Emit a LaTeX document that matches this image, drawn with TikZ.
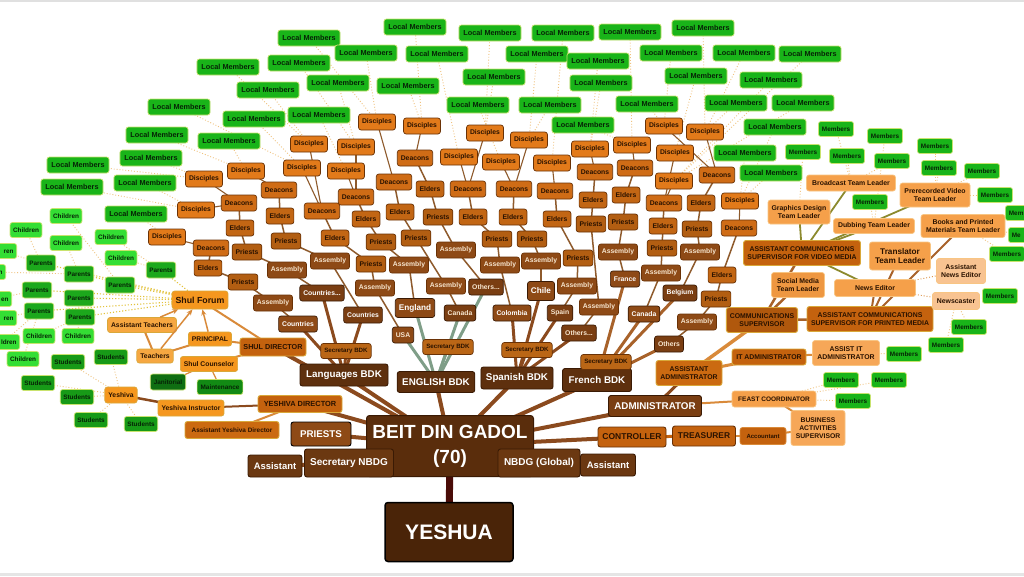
\documentclass[tikz,border=0pt]{standalone}
\usepackage{fontspec}
\setmainfont{Liberation Sans}
\usetikzlibrary{backgrounds,arrows.meta}
\definecolor{cLM}{HTML}{19B419}
\definecolor{cLMb}{HTML}{C9E36E}
\definecolor{cCh}{HTML}{34DE34}
\definecolor{cPa}{HTML}{1CA81C}
\definecolor{cSt}{HTML}{179A17}
\definecolor{cJa}{HTML}{0F6E12}
\definecolor{cMa}{HTML}{128A14}
\definecolor{cTG}{HTML}{062406}
\definecolor{cDi}{HTML}{E27A1A}
\definecolor{cDe}{HTML}{CF6C16}
\definecolor{cEl}{HTML}{C26614}
\definecolor{cPr}{HTML}{B25E12}
\definecolor{cAs}{HTML}{8E4A16}
\definecolor{cCo}{HTML}{7A3E12}
\definecolor{cSe}{HTML}{BA6616}
\definecolor{cBDK}{HTML}{5E300E}
\definecolor{cBDG}{HTML}{5A2D0C}
\definecolor{cYe}{HTML}{4A2408}
\definecolor{cNB}{HTML}{6B3811}
\definecolor{cBr}{HTML}{6A3206}
\definecolor{cDk}{HTML}{3A1A04}
\definecolor{cTD}{HTML}{2A1200}
\definecolor{cCream}{HTML}{F7E6CF}
\definecolor{cOr}{HTML}{F5971F}
\definecolor{cOrL}{HTML}{F5A04A}
\definecolor{cOrLb}{HTML}{F8C583}
\definecolor{cOrP}{HTML}{F8C391}
\definecolor{cOrD}{HTML}{C4620E}
\definecolor{cGold}{HTML}{D9A83A}
\definecolor{cLine}{HTML}{8B4A1E}
\definecolor{cLineE}{HTML}{7F9E88}
\definecolor{cLineM}{HTML}{8E5A2C}
\definecolor{cLineF}{HTML}{A8622A}
\definecolor{cLeaf}{HTML}{F0C27E}
\definecolor{cYel}{HTML}{E3C23A}
\definecolor{cOlive}{HTML}{8C8A2E}
\definecolor{cOrE}{HTML}{D98A3A}
\definecolor{cRed}{HTML}{4A0C08}
\newcommand\fS{\fontsize{6.8}{7.8}\selectfont\bfseries}
\newcommand\fM{\fontsize{6.4}{7.2}\selectfont\bfseries}
\newcommand\fL{\fontsize{7.3}{8}\selectfont\bfseries}
\newcommand\fT{\fontsize{6.9}{8.3}\selectfont\bfseries}
\tikzset{
 nb/.style={rounded corners=2.5pt, line width=0.7pt, inner xsep=3.5pt, inner ysep=0pt, minimum height=15pt, align=center, font=\fS},
 nLM/.style={nb, fill=cLM, draw=cLMb, text=cTG, minimum height=16pt, inner xsep=4.5pt, font=\fL},
 nMem/.style={nb, fill=cLM, draw=cLMb, text=cTG, font=\fM},
 nChi/.style={nb, fill=cCh, draw=cLMb, text=cTG, font=\fM, inner xsep=3pt},
 nPar/.style={nb, fill=cPa, draw=cLMb, text=cTG, font=\fM, minimum height=16pt, inner xsep=3pt},
 nStu/.style={nb, fill=cSt, draw=cLMb, text=cTG, font=\fM, inner xsep=3pt},
 nDis/.style={nb, fill=cDi, draw=cBr, text=cTD, minimum height=16pt},
 nDea/.style={nDis, fill=cDe},
 nEld/.style={nDis, fill=cEl},
 nPri/.style={nDis, fill=cPr},
 nAsm/.style={nDis, fill=cAs, text=cCream},
 nCtry/.style={nDis, fill=cCo, text=white, draw=cDk},
 nSec/.style={nDis, fill=cSe, font=\fontsize{6.2}{7}\selectfont\bfseries, minimum height=15pt},
 nBDK/.style={nb, fill=cBDK, draw=cDk, text=white, font=\fontsize{9.8}{11}\selectfont\bfseries, minimum height=22pt, inner xsep=5pt, line width=0.9pt},
 nTop/.style={nb, fill=cBDG, draw=cDk, text=white, line width=1pt, rounded corners=3pt},
 nBig/.style={nb, fill=cNB, draw=cDk, text=white, line width=0.9pt, font=\fontsize{9.8}{11}\selectfont\bfseries},
 nOr/.style={nb, fill=cOr, draw=cGold, text=cTD},
 nOrD/.style={nb, fill=cOrD, draw=cGold, text=cTD, line width=0.9pt},
 nOrL/.style={nb, fill=cOrL, draw=cOrLb, text=cTD, font=\fT},
 nOrP/.style={nb, fill=cOrP, draw=cOrLb, text=cTD, font=\fT},
 eBig/.style={draw=cLine, line width=4pt},
 eBDK/.style={draw=cLine, line width=3pt},
 eEng/.style={draw=cLineE, line width=3pt},
 eFr/.style={draw=cLineF, line width=3pt},
 eMid/.style={draw=cLineM, line width=1.5pt},
 eThin/.style={draw=cLineM, line width=1.1pt},
 eLeaf/.style={draw=cLeaf, line width=0.9pt, dotted},
 eYel/.style={draw=cYel, line width=1.1pt, dotted},
 eOr/.style={draw=cOrE, line width=2pt},
 eOl/.style={draw=cOlive, line width=1.8pt},
}
\begin{document}
\begin{tikzpicture}[x=1pt,y=-1pt]
\useasboundingbox (0,0) rectangle (1024,576);
% ---------- core ----------
\node[nTop, minimum width=167pt, minimum height=61pt, font=\fontsize{19}{25}\selectfont\bfseries] (bdg) at (450,446) {BEIT DIN GADOL\\(70)};
\node[nTop, fill=cYe, draw=black, minimum width=128pt, minimum height=59pt, font=\fontsize{21}{24}\selectfont\bfseries, line width=1.5pt] (yeshua) at (449,532) {YESHUA};
\node[nBig, fill=cAs, draw=black, minimum width=60pt, minimum height=24pt] (pr2) at (321,434) {PRIESTS};
\node[nBig, minimum width=89pt, minimum height=28pt, font=\fontsize{10}{11}\selectfont\bfseries] (secnbdg) at (349,463) {Secretary NBDG};
\node[nBig, minimum width=54pt, minimum height=22pt, font=\fontsize{9.4}{11}\selectfont\bfseries] (asst1) at (275,466) {Assistant};
\node[nBig, minimum width=82pt, minimum height=28pt, font=\fontsize{10}{11}\selectfont\bfseries] (nbdgg) at (539,463) {NBDG (Global)};
\node[nBig, minimum width=55pt, minimum height=22pt, font=\fontsize{9.4}{11}\selectfont\bfseries] (asst2) at (608,465) {Assistant};
\node[nBig, fill=cCo, minimum width=93pt, minimum height=21pt] (admin) at (655,406) {ADMINISTRATOR};
\node[nb, fill=cOrD, draw=cBr, text=cTD, minimum width=68pt, minimum height=20pt, font=\fontsize{8.5}{10}\selectfont\bfseries, line width=0.9pt] (ctrl) at (632,437) {CONTROLLER};
\node[nb, fill=cOrD, draw=cBr, text=cTD, minimum width=63pt, minimum height=20pt, font=\fontsize{8.4}{10}\selectfont\bfseries, line width=0.9pt] (treas) at (704,436) {TREASURER};
\node[nb, fill=cOrD, draw=cOrE, text=cTD, minimum width=46pt, minimum height=17pt, font=\fontsize{6}{7}\selectfont\bfseries] (acct) at (763,436) {Accountant};
\node[nOrL, minimum width=84pt, minimum height=16pt, font=\fontsize{6.5}{7}\selectfont\bfseries] (feast) at (774,399) {FEAST COORDINATOR};
\node[nOrL, fill=cOrL!80!cOrP, minimum width=54pt, minimum height=35pt, font=\fontsize{6.8}{8}\selectfont\bfseries] (bas) at (818,428) {BUSINESS\\ACTIVITIES\\SUPERVISOR};
% ---------- BDKs ----------
\node[nBDK, minimum width=88pt] (langbdk) at (344,375) {Languages BDK};
\node[nBDK, minimum width=76pt, minimum height=21pt] (engbdk) at (436,382) {ENGLISH BDK};
\node[nBDK, minimum width=72pt] (spabdk) at (517,378) {Spanish BDK};
\node[nBDK, minimum width=69pt, minimum height=23pt] (frbdk) at (597,380) {French BDK};
\node[nSec] (seclang) at (346,351) {Secretary BDK};
\node[nSec] (seceng) at (448,347) {Secretary BDK};
\node[nSec] (secspa) at (527,350) {Secretary BDK};
\node[nSec] (secfr) at (606,362) {Secretary BDK};
% ---------- countries ----------
\node[nCtry, fill=cAs] (ctry1) at (298,324) {Countries};
\node[nCtry] (ctry2) at (363,315) {Countries};
\node[nCtry] (ctry3) at (322,293) {Countries...};
\node[nCtry, fill=cAs, text=cCream] (usa) at (403,335) {USA};
\node[nCtry, fill=cAs, font=\fontsize{8.2}{9}\selectfont\bfseries, minimum height=19pt] (england) at (415,308) {England};
\node[nCtry, text=cCream] (canada1) at (460,313) {Canada};
\node[nCtry, text=cCream] (others1) at (486,287) {Others...};
\node[nCtry, fill=cAs] (colombia) at (512,313) {Colombia};
\node[nCtry, fill=cAs, font=\fontsize{8.2}{9}\selectfont\bfseries, minimum height=19pt] (chile) at (541,291) {Chile};
\node[nCtry, text=cCream] (spain) at (560,313) {Spain};
\node[nCtry, text=cCream] (others2) at (579,333) {Others...};
\node[nCtry, fill=cAs] (france) at (625,279) {France};
\node[nCtry, fill=cAs] (canada2) at (644,314) {Canada};
\node[nCtry] (belgium) at (680,293) {Belgium};
\node[nCtry, text=cCream] (others3) at (669,344) {Others};
% ---------- hierarchy ----------
\foreach \n/\x/\y in {a1/273/303,a2/287/270,a3/330/261,a4/375/288,a5/409/265,a6/456/250,a7/446/286,a8/500/265,a9/541/261,a10/577/286,a11/599/307,a12/618/252,a13/661/273,a14/700/252,a15/697/322}
  \node[nAsm] (\n) at (\x,\y) {Assembly};
\foreach \n/\x/\y in {p1/243/282,p2/247/252,p3/286/241,p4/371/264,p5/381/242,p6/416/238,p7/438/217,p8/497/239,p9/532/239,p10/578/258,p11/591/224,p12/623/222,p13/662/248,p14/697/229,p15/716/299}
  \node[nPri] (\n) at (\x,\y) {Priests};
\foreach \n/\x/\y in {e1/208/268,e2/240/228,e3/280/216,e4/335/238,e5/366/219,e6/400/212,e7/430/189,e8/473/217,e9/513/217,e10/557/219,e11/593/200,e12/626/195,e13/663/226,e14/701/203,e15/722/275}
  \node[nEld] (\n) at (\x,\y) {Elders};
\foreach \n/\x/\y in {d1/211/248,d2/239/203,d3/279/190,d4/322/211,d5/356/197,d6/394/182,d7/415/158,d8/468/189,d9/514/189,d10/555/191,d11/595/172,d12/635/168,d13/664/203,d14/717/175,d15/739/228}
  \node[nDea] (\n) at (\x,\y) {Deacons};
\foreach \n/\x/\y in {s1/167/237,s2/196/210,s3/204/179,s4/246/171,s5/302/168,s6/346/171,s7/309/144,s8/356/147,s9/377/122,s10/422/126,s11/459/157,s12/485/133,s13/501/162,s14/529/140,s15/552/163,s16/590/149,s17/632/145,s18/664/126,s19/675/153,s20/705/132,s21/674/181,s22/740/201}
  \node[nDis] (\n) at (\x,\y) {Disciples};
\foreach \n/\x/\y in {L1/228/67,L2/268/90,L3/179/107,L4/254/119,L5/157/135,L6/229/141,L7/151/158,L8/78/165,L9/72/187,L10/145/183,L11/136/214,L12/309/38,L13/415/27,L14/490/33,L15/299/63,L16/366/53,L17/437/54,L18/338/83,L19/408/86,L20/319/115,L21/494/77,L22/478/105,L23/563/33,L24/630/32,L25/703/28,L26/537/54,L27/598/61,L28/671/53,L29/744/53,L30/810/54,L31/601/83,L32/696/76,L33/771/80,L34/550/105,L35/647/104,L36/736/103,L37/803/103,L38/583/125,L39/775/127,L40/745/153,L41/771/173}
  \node[nLM] (\n) at (\x,\y) {Local Members};
% ---------- communications ----------
\node[nOrD, fill=cOrD!90!black, minimum width=71pt, minimum height=25pt, font=\fT] (commsup) at (762,320) {COMMUNICATIONS\\SUPERVISOR};
\node[nOrD, minimum width=74pt, minimum height=16pt, font=\fT] (itadmin) at (769,357) {IT ADMINISTRATOR};
\node[nOrD, fill=cOrD!85!cOr, minimum width=66pt, minimum height=25pt, font=\fT] (asstadmin) at (689,373) {ASSISTANT\\ADMINISTRATOR};
\node[nOrD, minimum width=117pt, minimum height=25pt, font=\fT] (avm) at (802,253) {ASSISTANT COMMUNICATIONS\\SUPERVISOR FOR VIDEO MEDIA};
\node[nOrD, minimum width=126pt, minimum height=25pt, font=\fT] (apm) at (870,319) {ASSISTANT COMMUNICATIONS\\SUPERVISOR FOR PRINTED MEDIA};
\node[nOrL, minimum width=62pt, minimum height=24pt] (gdtl) at (799,212) {Graphics Design\\Team Leader};
\node[nOrL, minimum width=89pt, minimum height=16pt] (bcast) at (851,183) {Broadcast Team Leader};
\node[nOrL, minimum width=70pt, minimum height=24pt] (prerec) at (935,195) {Prerecorded Video\\Team Leader};
\node[nOrL, minimum width=81pt, minimum height=15pt] (dub) at (874,226) {Dubbing Team Leader};
\node[nOrL, minimum width=84pt, minimum height=23pt] (books) at (963,226) {Books and Printed\\Materials Team Leader};
\node[nOrL, minimum width=61pt, minimum height=28pt, font=\fontsize{8.2}{9.8}\selectfont\bfseries] (transl) at (900,256) {Translator\\Team Leader};
\node[nOrP, minimum width=49pt, minimum height=25pt] (asstnews) at (961,271) {Assistant\\News Editor};
\node[nOrL, fill=cOrL!85!cOrD, minimum width=53pt, minimum height=25pt] (social) at (798,285) {Social Media\\Team Leader};
\node[nOrL, minimum width=81pt, minimum height=17pt] (newsed) at (875,288) {News Editor};
\node[nOrP, minimum width=47pt, minimum height=17pt] (newsc) at (956,301) {Newscaster};
\node[nOrL, fill=cOrL!80!cOrP, minimum width=67pt, minimum height=25pt] (assistit) at (846,353) {ASSIST IT\\ADMINISTRATOR};
\foreach \n/\x/\y in {M1/836/129,M2/885/136,M3/935/146,M4/803/152,M5/847/156,M6/892/161,M7/939/168,M8/982/171,M9/870/202,M10/995/195,M13/1007/254,M14/1000/296,M15/969/327,M16/946/345,M17/904/354,M18/841/380,M19/889/380,M20/853/401}
  \node[nMem] (\n) at (\x,\y) {Members};
% members cut by the right edge: only the visible letters are printed
\node[nMem, anchor=west] (M11) at (1005,213) {Mem\phantom{bers}};
\node[nMem, anchor=west] (M12) at (1008,235) {Me\phantom{mbers}};
% ---------- shul & yeshiva ----------
\node[nOrD, minimum width=84pt, minimum height=17pt, font=\fontsize{7.4}{8}\selectfont\bfseries] (yesdir) at (300,404) {YESHIVA DIRECTOR};
\node[nOrD, fill=cOrD!85!cOr, minimum width=94pt, minimum height=17pt, font=\fontsize{6.4}{7}\selectfont\bfseries] (asstyd) at (232,430) {Assistant Yeshiva Director};
\node[nOr, minimum height=16pt] (yinst) at (191,408) {Yeshiva Instructor};
\node[nOr, minimum height=16pt] (yeshiva) at (121,395) {Yeshiva};
\node[nOrD, minimum width=61pt, minimum height=18pt, font=\fontsize{7.2}{8}\selectfont\bfseries] (shuldir) at (273,347) {SHUL DIRECTOR};
\node[nOr, minimum width=55pt, minimum height=18pt, font=\fontsize{8.8}{10}\selectfont\bfseries] (sforum) at (200,300) {Shul Forum};
\node[nOr, fill=cOr!85!white] (asttch) at (142,325) {Assistant Teachers};
\node[nOr, minimum height=14pt] (princ) at (210,339) {PRINCIPAL};
\node[nOr, fill=cOr!85!white, minimum height=14pt] (tchrs) at (155,356) {Teachers};
\node[nOr] (scoun) at (209,364) {Shul Counselor};
\node[nb, fill=cJa, draw=cLMb, text=cTG, font=\fM, minimum height=16pt] (jan) at (168,382) {Janitorial};
\node[nb, fill=cMa, draw=cLMb, text=cTG, font=\fM] (maint) at (220,387) {Maintenance};
\foreach \n/\x/\y in {P1/41/263,P2/79/274,P3/161/270,P4/120/285,P5/37/290,P6/79/298,P7/39/311,P8/80/317}
  \node[nPar] (\n) at (\x,\y) {Parents};
\foreach \n/\x/\y in {C1/66/216,C2/26/230,C3/66/243,C4/111/237,C5/121/258,C10/39/336,C11/78/336,C13/23/359}
  \node[nChi] (\n) at (\x,\y) {Children};
% children cut by the left edge: only the visible letters are printed
\node[nChi, anchor=east] (C6) at (17,251) {\phantom{Child}ren};
\node[nChi, anchor=east] (C7) at (6,272) {\phantom{Childre}n};
\node[nChi, anchor=east] (C8) at (12,299) {\phantom{Childr}en};
\node[nChi, anchor=east] (C9) at (17,318) {\phantom{Child}ren};
\node[nChi, anchor=east] (C12) at (20,342) {\phantom{Chi}ldren};
\foreach \n/\x/\y in {St1/68/362,St2/111/357,St3/38/383,St5/77/397,St6/91/420,St7/141/424}
  \node[nStu] (\n) at (\x,\y) {Students};
% ---------- connectors ----------
\begin{pgfonlayer}{background}
\fill[white] (0,0) rectangle (1024,576);
\fill[black!12] (0,0) rectangle (1024,1.5);
\fill[black!10] (0,573) rectangle (1024,576);
\draw[draw=cRed, line width=7pt] (bdg.center) -- (yeshua.center);
\foreach \b in {langbdk,engbdk,spabdk,frbdk,yesdir,shuldir,pr2,admin,ctrl,secnbdg,nbdgg}
  \draw[eBig] (bdg.center) -- (\b.center);
\draw[eBig] (secnbdg.center) -- (asst1.center);
\draw[eBig] (nbdgg.center) -- (asst2.center);
\foreach \b in {seclang,ctry1,ctry2,ctry3}
  \draw[eBDK] (langbdk.center) -- (\b.center);
\foreach \b in {seceng,usa,england,canada1,others1}
  \draw[eEng] (engbdk.center) -- (\b.center);
\foreach \b in {secspa,colombia,chile,spain,others2}
  \draw[eBDK] (spabdk.center) -- (\b.center);
\foreach \b in {secfr,france,canada2,belgium,others3}
  \draw[eFr] (frbdk.center) -- (\b.center);
\foreach \a/\b in {ctry1/a1,ctry3/a2,ctry2/a3,usa/a4,england/a5,canada1/a7,others1/a6,colombia/a8,chile/a9,spain/a10,others2/a11,france/a12,canada2/a13,belgium/a14,others3/a15}
  \draw[eMid] (\a.center) -- (\b.center);
\foreach \a/\b in {a1/p1,a2/p2,a3/p3,a4/p4,a5/p5,a7/p6,a6/p7,a8/p8,a9/p9,a10/p10,a11/p11,a12/p12,a13/p13,a14/p14,a15/p15}
  \draw[eMid] (\a.center) -- (\b.center);
\foreach \i in {1,...,15} {
  \draw[eMid] (p\i.center) -- (e\i.center);
  \draw[eMid] (e\i.center) -- (d\i.center);
}
\foreach \a/\b in {d1/s1,d2/s2,d2/s3,d3/s4,d4/s5,d4/s7,d5/s6,d5/s8,d6/s9,d7/s10,d8/s11,d8/s12,d9/s13,d9/s14,d10/s15,d11/s16,d12/s17,d13/s19,d13/s21,d14/s18,d14/s20,d15/s22}
  \draw[eThin] (\a.center) -- (\b.center);
\foreach \a/\b in {s1/L11,s2/L9,s2/L10,s3/L7,s3/L8,s4/L5,s4/L6,s5/L3,s5/L4,s7/L1,s7/L2,s6/L20,s8/L15,s8/L18,s9/L12,s9/L16,s10/L13,s10/L19,s11/L17,s12/L14,s12/L21,s13/L22,s14/L26,s14/L34,s15/L23,s16/L27,s16/L31,s17/L24,s17/L38,s18/L28,s18/L35,s19/L32,s20/L25,s20/L29,s20/L36,s21/L33,s21/L30,s21/L37,s22/L39,s22/L40,s22/L41}
  \draw[eLeaf] (\a.center) -- (\b.center);
% administration
\draw[eBDK] (admin.center) -- (asstadmin.center);
\draw[eOr] (admin.center) -- (feast.center);
\draw[eOr, line width=3.5pt] (asstadmin.center) -- (commsup.center);
\draw[eOr, line width=3pt] (asstadmin.center) -- (itadmin.center);
\draw[eOr] (itadmin.center) -- (assistit.center);
\foreach \b in {avm,apm,social}
  \draw[eOr, draw=cLineF, line width=2.5pt] (commsup.center) -- (\b.center);
\foreach \b in {gdtl,bcast,prerec,dub,newsed}
  \draw[eOl] (avm.center) -- (\b.center);
\foreach \b in {transl,books,newsed}
  \draw[eOr, draw=cLineF] (apm.center) -- (\b.center);
\draw[eLeaf, draw=cOrE] (newsed.center) -- (asstnews.center);
\draw[eLeaf, draw=cOrE] (newsed.center) -- (newsc.center);
\draw[eOr] (feast.center) -- (bas.center);
\draw[eBDK, draw=cOrD] (ctrl.center) -- (treas.center);
\draw[eOr] (treas.center) -- (acct.center);
\draw[eOr] (acct.center) -- (bas.center);
\foreach \a/\b in {bcast/M1,bcast/M5,bcast/M6,gdtl/M4,dub/M9,dub/M2,prerec/M3,prerec/M7,prerec/M8,prerec/M10,books/M11,books/M12,books/M13,newsc/M14,newsc/M15,newsc/M16,assistit/M17,feast/M18,feast/M19,feast/M20}
  \draw[eLeaf] (\a.center) -- (\b.center);
% yeshiva & shul
\draw[eOr, draw=cLine] (yesdir.center) -- (yinst.center);
\draw[eOr] (yesdir.center) -- (asstyd.center);
\draw[eOr, draw=cLine, line width=2.5pt] (yinst.center) -- (yeshiva.center);
\foreach \b in {St1,St2,St3,St5,St6,St7}
  \draw[eLeaf] (yeshiva.center) -- (\b.center);
\foreach \b in {sforum,princ,scoun}
  \draw[eOr] (shuldir.center) -- (\b.center);
\draw[eOr] (princ.center) -- (tchrs.center);
\draw[eOr] (tchrs.center) -- (asttch.center);
\draw[eOr, line width=1.2pt] (scoun.center) -- (maint.center);
\draw[eOr, line width=1.2pt] (scoun.center) -- (jan.center);
\foreach \b in {P1,P2,P3,P4,P5,P6,P7,P8}
  \draw[eYel] (sforum.center) -- (\b.center);
\foreach \a/\b in {P1/C2,P1/C6,P2/C3,P2/C7,P3/C4,P3/C5,P4/C1,P5/C8,P6/C11,P7/C9,P7/C12,P7/C13,P8/C10}
  \draw[eLeaf] (\a.center) -- (\b.center);
\end{pgfonlayer}
\draw[draw=cOrE, line width=1.5pt, -{Stealth[length=6pt,width=5pt]}] (asttch) -- (sforum);
\draw[draw=cOrE, line width=1.5pt, -{Stealth[length=6pt,width=5pt]}] (tchrs) -- (sforum);
\draw[draw=cOrE, line width=1.5pt, -{Stealth[length=6pt,width=5pt]}] (princ) -- (sforum);
\end{tikzpicture}
\end{document}
